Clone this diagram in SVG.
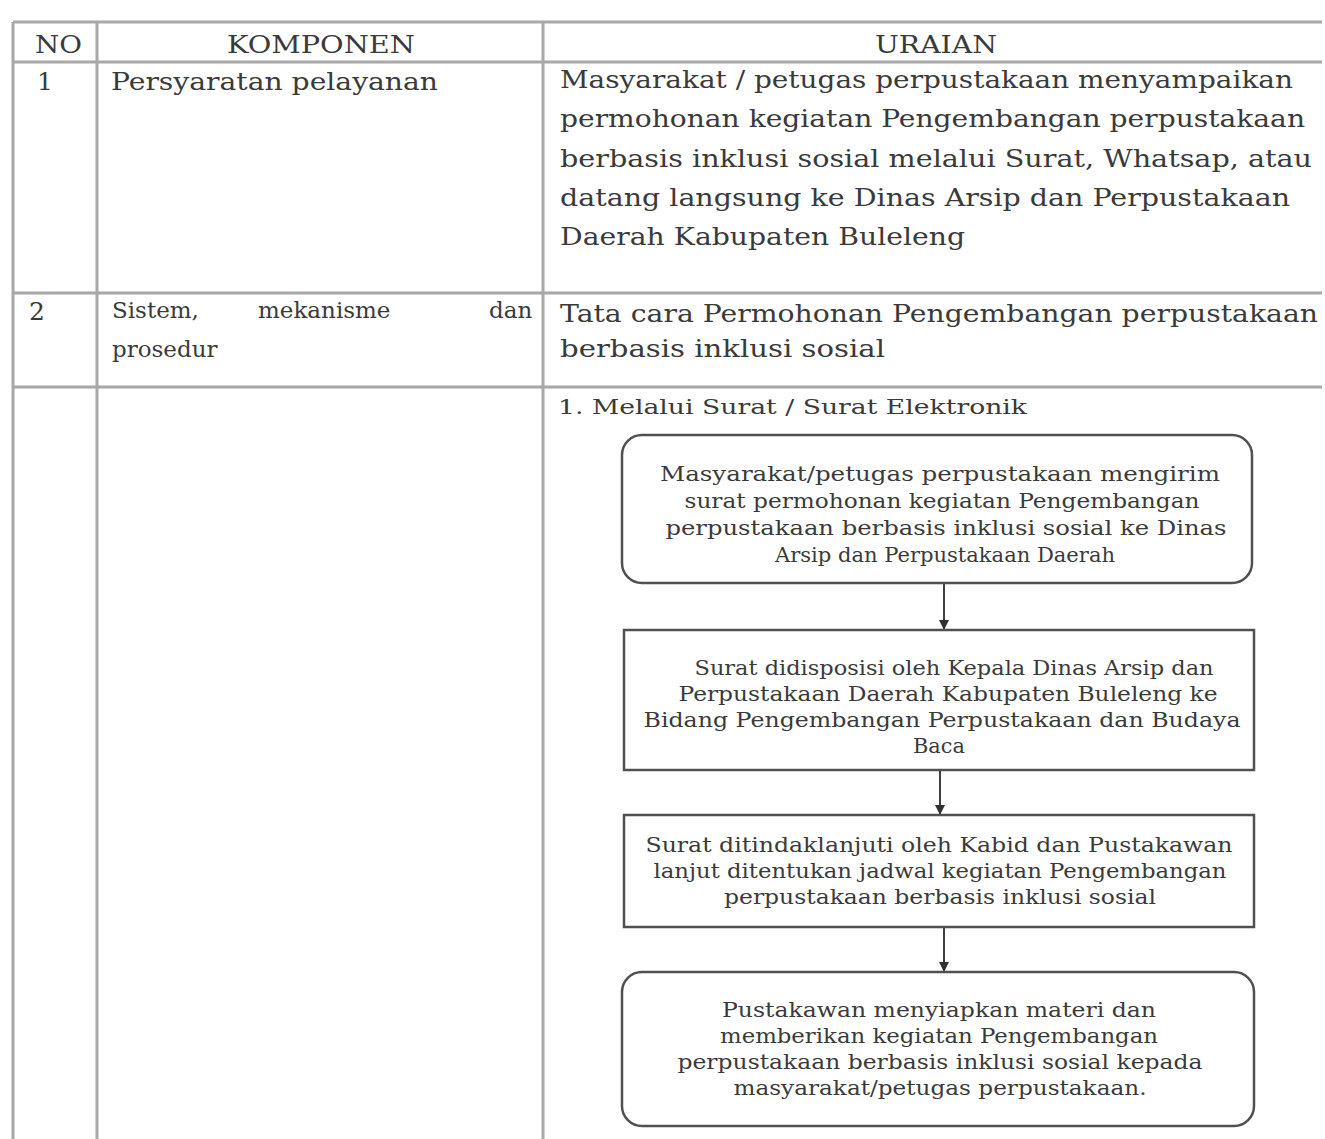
<svg xmlns="http://www.w3.org/2000/svg" width="1325" height="1139" viewBox="0 0 1325 1139">
<style>
.grid{stroke:#a8a8a8;stroke-width:3;fill:none}
.t{font-family:"DejaVu Serif","Liberation Serif",serif;fill:#3a3a3a}
.h{font-size:24px}
.b{font-size:25px}
.k{font-size:23px}
.s{font-size:21px}
.f{font-size:20px;text-anchor:middle}
.box{fill:#fff;stroke:#505050;stroke-width:2.5}
.conn{stroke:#404040;stroke-width:2;fill:none}
</style>
<defs>
<marker id="arr" viewBox="0 0 10 10" refX="9" refY="5" markerWidth="5" markerHeight="5" orient="auto" markerUnits="strokeWidth">
<path d="M0,0 L10,5 L0,10 z" fill="#303030"/>
</marker>
</defs>
<rect width="1325" height="1139" fill="#fff"/>
<g id="table">
<line class="grid" x1="13" y1="22" x2="1322" y2="22"/>
<line class="grid" x1="13" y1="62" x2="1322" y2="62"/>
<line class="grid" x1="13" y1="293" x2="1322" y2="293"/>
<line class="grid" x1="13" y1="387" x2="1322" y2="387"/>
<line class="grid" x1="13" y1="22" x2="13" y2="1139"/>
<line class="grid" x1="97" y1="22" x2="97" y2="1139"/>
<line class="grid" x1="543" y1="22" x2="543" y2="1139"/>
<text class="t h" x="35" y="53" textLength="47" lengthAdjust="spacingAndGlyphs">NO</text>
<text class="t h" x="227" y="53" textLength="188" lengthAdjust="spacingAndGlyphs">KOMPONEN</text>
<text class="t h" x="875" y="53" textLength="122" lengthAdjust="spacingAndGlyphs">URAIAN</text>
<text class="t b" x="37" y="90">1</text>
<text class="t b" x="111" y="90" textLength="327" lengthAdjust="spacingAndGlyphs">Persyaratan pelayanan</text>
<text class="t b" x="560" y="88" textLength="733" lengthAdjust="spacingAndGlyphs">Masyarakat / petugas perpustakaan menyampaikan</text>
<text class="t b" x="560" y="127" textLength="745" lengthAdjust="spacingAndGlyphs">permohonan kegiatan Pengembangan perpustakaan</text>
<text class="t b" x="560" y="167" textLength="752" lengthAdjust="spacingAndGlyphs">berbasis inklusi sosial melalui Surat, Whatsap, atau</text>
<text class="t b" x="560" y="206" textLength="730" lengthAdjust="spacingAndGlyphs">datang langsung ke Dinas Arsip dan Perpustakaan</text>
<text class="t b" x="560" y="245" textLength="405" lengthAdjust="spacingAndGlyphs">Daerah Kabupaten Buleleng</text>
<text class="t b" x="29" y="320">2</text>
<text class="t k" x="112" y="318">Sistem,</text>
<text class="t k" x="258" y="318">mekanisme</text>
<text class="t k" x="489" y="318">dan</text>
<text class="t k" x="112" y="357">prosedur</text>
<text class="t b" x="560" y="322" textLength="758" lengthAdjust="spacingAndGlyphs">Tata cara Permohonan Pengembangan perpustakaan</text>
<text class="t b" x="560" y="357" textLength="325" lengthAdjust="spacingAndGlyphs">berbasis inklusi sosial</text>
<text class="t s" x="558" y="414" textLength="469" lengthAdjust="spacingAndGlyphs">1. Melalui Surat / Surat Elektronik</text>
</g>
<g id="connectors">
<line class="conn" x1="944" y1="583" x2="944" y2="629" marker-end="url(#arr)"/>
<line class="conn" x1="940" y1="770" x2="940" y2="814" marker-end="url(#arr)"/>
<line class="conn" x1="944" y1="927" x2="944" y2="971" marker-end="url(#arr)"/>
</g>
<g id="node1">
<rect class="box" x="622" y="435" width="630" height="148" rx="20"/>
<text class="t f" x="940" y="481" textLength="560" lengthAdjust="spacingAndGlyphs">Masyarakat/petugas perpustakaan mengirim</text>
<text class="t f" x="942" y="508" textLength="515" lengthAdjust="spacingAndGlyphs">surat permohonan kegiatan Pengembangan</text>
<text class="t f" x="946" y="535" textLength="561" lengthAdjust="spacingAndGlyphs">perpustakaan berbasis inklusi sosial ke Dinas</text>
<text class="t f" x="945" y="562" textLength="340" lengthAdjust="spacingAndGlyphs">Arsip dan Perpustakaan Daerah</text>
</g>
<g id="node2">
<rect class="box" x="624" y="630" width="630" height="140"/>
<text class="t f" x="954" y="675" textLength="519" lengthAdjust="spacingAndGlyphs">Surat didisposisi oleh Kepala Dinas Arsip dan</text>
<text class="t f" x="948" y="701" textLength="539" lengthAdjust="spacingAndGlyphs">Perpustakaan Daerah Kabupaten Buleleng ke</text>
<text class="t f" x="942" y="727" textLength="597" lengthAdjust="spacingAndGlyphs">Bidang Pengembangan Perpustakaan dan Budaya</text>
<text class="t f" x="939" y="753" textLength="52" lengthAdjust="spacingAndGlyphs">Baca</text>
</g>
<g id="node3">
<rect class="box" x="624" y="815" width="630" height="112"/>
<text class="t f" x="939" y="852" textLength="587" lengthAdjust="spacingAndGlyphs">Surat ditindaklanjuti oleh Kabid dan Pustakawan</text>
<text class="t f" x="940" y="878" textLength="573" lengthAdjust="spacingAndGlyphs">lanjut ditentukan jadwal kegiatan Pengembangan</text>
<text class="t f" x="940" y="904" textLength="432" lengthAdjust="spacingAndGlyphs">perpustakaan berbasis inklusi sosial</text>
</g>
<g id="node4">
<rect class="box" x="622" y="972" width="632" height="154" rx="20"/>
<text class="t f" x="939" y="1017" textLength="434" lengthAdjust="spacingAndGlyphs">Pustakawan menyiapkan materi dan</text>
<text class="t f" x="939" y="1043" textLength="438" lengthAdjust="spacingAndGlyphs">memberikan kegiatan Pengembangan</text>
<text class="t f" x="940" y="1069" textLength="525" lengthAdjust="spacingAndGlyphs">perpustakaan berbasis inklusi sosial kepada</text>
<text class="t f" x="940" y="1095" textLength="413" lengthAdjust="spacingAndGlyphs">masyarakat/petugas perpustakaan.</text>
</g>
</svg>
